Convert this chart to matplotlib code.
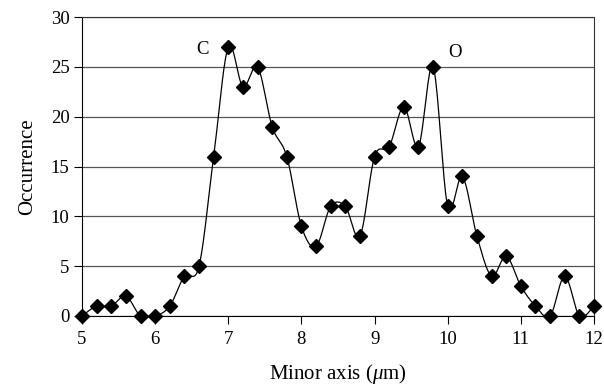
import numpy as np
import matplotlib
matplotlib.use("Agg")
import matplotlib.pyplot as plt

x_vals = [5.0, 5.2, 5.4, 5.6, 5.8, 6.0, 6.2, 6.4, 6.6, 6.8, 7.0, 7.2, 7.4, 7.6, 7.8, 8.0,
          8.2, 8.4, 8.6, 8.8, 9.0, 9.2, 9.4, 9.6, 9.8, 10.0, 10.2, 10.4, 10.6, 10.8, 11.0,
          11.2, 11.4, 11.6, 11.8, 12.0]
occurrence = [0, 1, 1, 2, 0, 0, 1, 4, 5, 16, 27, 23, 25, 19, 16, 9,
              7, 11, 11, 8, 16, 17, 21, 17, 25, 11, 14, 8, 4, 6, 3,
              1, 0, 4, 0, 1]
peak_labels = [("C", 6.65, 26.7), ("O", 10.1, 26.4)]

plt.rcParams['font.family'] = ['Liberation Serif', 'DejaVu Serif']
plt.rcParams['mathtext.fontset'] = 'custom'
plt.rcParams['mathtext.rm'] = 'Liberation Serif'
plt.rcParams['mathtext.it'] = 'Liberation Serif:italic'

def smooth(xs, ys, n=20):
    xs = np.asarray(xs, float); ys = np.asarray(ys, float)
    P = np.column_stack([xs, ys])
    P = np.vstack([P[0], P, P[-1]])
    out = []
    t = np.linspace(0, 1, n, endpoint=False)[:, None]
    for i in range(1, len(P) - 2):
        p0, p1, p2, p3 = P[i-1], P[i], P[i+1], P[i+2]
        c1 = p1 + (p2 - p0) / 6
        c2 = p2 - (p3 - p1) / 6
        seg = ((1-t)**3)*p1 + 3*((1-t)**2)*t*c1 + 3*(1-t)*t**2*c2 + t**3*p2
        out.append(seg)
    out.append(P[-2][None, :])
    out = np.vstack(out)
    return out[:, 0], out[:, 1]

FS = 13.5
LFS = 15
fig = plt.figure(figsize=(6.04, 3.89), dpi=100)
ax = fig.add_axes([82/604, 1-316/389, (594-82)/604, (316-17)/389])

sx, sy = smooth(x_vals, occurrence)
ax.plot(sx, sy, color='black', lw=0.9, zorder=3)
ax.plot(x_vals, occurrence, linestyle='none', marker='D', ms=7.3, color='black', zorder=4, clip_on=False)

for txt, lx, ly in peak_labels:
    ax.text(lx, ly, txt, fontsize=FS, ha='center', va='center')

ax.set_xlim(5, 12)
ax.set_ylim(0, 30)
ax.set_xticks(range(5, 13))
ax.set_yticks(range(0, 31, 5))
ax.yaxis.grid(True, color='#555555', lw=0.9)
ax.set_axisbelow(True)
ax.tick_params(axis='both', direction='out', length=6, width=0.8, labelsize=FS, color='black')
ax.tick_params(axis='y', pad=3)
ax.tick_params(axis='x', pad=5)
for s in ax.spines.values():
    s.set_linewidth(0.8)
    s.set_color('black')
ax.spines['top'].set_color('#333333')
ax.spines['right'].set_color('#333333')
ax.set_ylabel('Occurrence', fontsize=LFS, labelpad=10)
ax.set_xlabel(r'Minor axis ($\mathit{\mu}$m)', fontsize=LFS, labelpad=10)
fig.savefig('out.png', dpi=100)
